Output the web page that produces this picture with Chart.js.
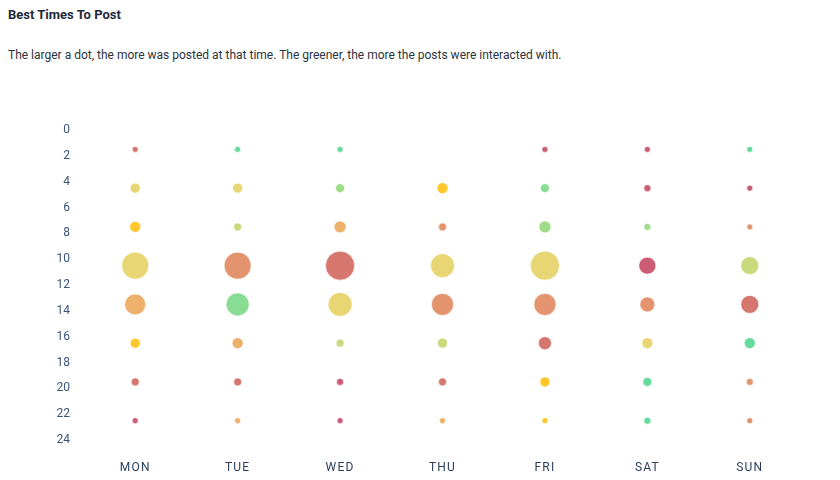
<!DOCTYPE html>
<html lang="en">
  <head>
    <meta charset="UTF-8" />
    <title>Best Times To Post</title>
    <style>
      body { margin: 0; background: #fff; font-family: Roboto, "Noto Sans", sans-serif; }
      .title { position: absolute; left: 8px; top: 7px; font-size: 13px; font-weight: bold; color: #1e2a3a; }
      .sub { position: absolute; left: 8px; top: 48px; font-size: 12px; color: #2c3440; }
      .wrap { position: absolute; left: 0; top: 0; width: 840px; height: 480px; }
    </style>
  </head>
  <body>
    <div class="title">Best Times To Post</div>
    <div class="sub">The larger a dot, the more was posted at that time. The greener, the more the posts were interacted with.</div>
    <div class="wrap"><canvas id="myChart" width="840" height="480"></canvas></div>

    <script src="https://cdn.jsdelivr.net/npm/chart.js"></script>
    <script>
      const days = ["MON", "TUE", "WED", "THU", "FRI", "SAT", "SUN"];
      const hours = [1.5, 4.5, 7.5, 10.5, 13.5, 16.5, 19.5, 22.5];
      const yTicks = [0, 2, 4, 6, 8, 10, 12, 14, 16, 18, 20, 22, 24];

      // dot radius (how much was posted), one array per day, one value per time slot
      const postsMON = [3, 5, 5.5, 13.5, 10.5, 5, 4, 3];
      const postsTUE = [3, 5, 4, 13.5, 11.5, 5.5, 4, 3];
      const postsWED = [3, 4.5, 6, 14.5, 12, 4, 3.5, 3];
      const postsTHU = [null, 5.5, 4, 12, 11, 5, 4, 3];
      const postsFRI = [3, 4.5, 6, 14.5, 11, 6.5, 5, 3];
      const postsSAT = [3, 3.5, 3.5, 8.5, 7.5, 5.5, 4.5, 3.5];
      const postsSUN = [3, 3, 3, 9, 9, 5.5, 3.5, 3];

      // interaction level 0 (red) .. 9 (green)
      const levelMON = [1, 5, 4, 5, 3, 4, 1, 0];
      const levelTUE = [9, 5, 6, 2, 8, 3, 1, 3];
      const levelWED = [9, 7, 3, 1, 5, 6, 0, 0];
      const levelTHU = [null, 4, 2, 5, 2, 6, 1, 3];
      const levelFRI = [0, 8, 7, 5, 2, 1, 4, 4];
      const levelSAT = [0, 0, 7, 0, 2, 5, 9, 9];
      const levelSUN = [9, 0, 2, 6, 1, 9, 2, 2];

      const palette = ["#cc5b75", "#d5776f", "#e3946f", "#eeb16c", "#ffc72c",
                       "#e8d674", "#c9da7c", "#9fdc88", "#88dc94", "#63dc9c"];

      const posts = [postsMON, postsTUE, postsWED, postsTHU, postsFRI, postsSAT, postsSUN];
      const levels = [levelMON, levelTUE, levelWED, levelTHU, levelFRI, levelSAT, levelSUN];

      const points = [];
      const colors = [];
      days.forEach(function(day, d) {
        hours.forEach(function(h, i) {
          if (posts[d][i] == null) return;
          points.push({ x: day, y: h, r: posts[d][i] });
          colors.push(palette[levels[d][i]]);
        });
      });

      const ctx = document.getElementById("myChart");
      Chart.defaults.font.family = "Roboto, 'Noto Sans', sans-serif";
      Chart.defaults.font.size = 12;

      const myChart = new Chart(ctx, {
        type: "bubble",
        data: {
          labels: days,
          datasets: [
            {
              label: "Posts",
              data: points,
              backgroundColor: colors,
              borderColor: "rgba(255,255,255,0.6)",
              borderWidth: 1,
            },
          ],
        },
        options: {
          responsive: false,
          animation: false,
          layout: { padding: { top: 130, right: 39, bottom: 0, left: 0 } },
          plugins: { legend: { display: false }, tooltip: { enabled: false } },
          scales: {
            x: {
              type: "category",
              labels: days,
              offset: true,
              grid: { display: false, drawTicks: false },
              border: { display: false },
              ticks: { color: "#2b3f5c", padding: 21, font: { size: 12 } },
              afterFit: function(scale) {
                scale.height = 40;
                // spaced-out day labels
                if (!scale._spaced) {
                  const orig = scale.drawLabels;
                  scale.drawLabels = function(area) {
                    this.ctx.save();
                    this.ctx.letterSpacing = "1.2px";
                    orig.call(this, area);
                    this.ctx.restore();
                  };
                  scale._spaced = true;
                }
              },
            },
            y: {
              type: "linear",
              min: 0,
              max: 24,
              reverse: true,
              afterBuildTicks: function(scale) {
                scale.ticks = yTicks.map(function(v) { return { value: v }; });
              },
              grid: { display: false, drawTicks: false },
              border: { display: false },
              ticks: { color: "#3b5578", padding: 14, font: { size: 12 } },
              afterFit: function(scale) { scale.width = 84; },
            },
          },
        },
      });
    </script>
  </body>
</html>
